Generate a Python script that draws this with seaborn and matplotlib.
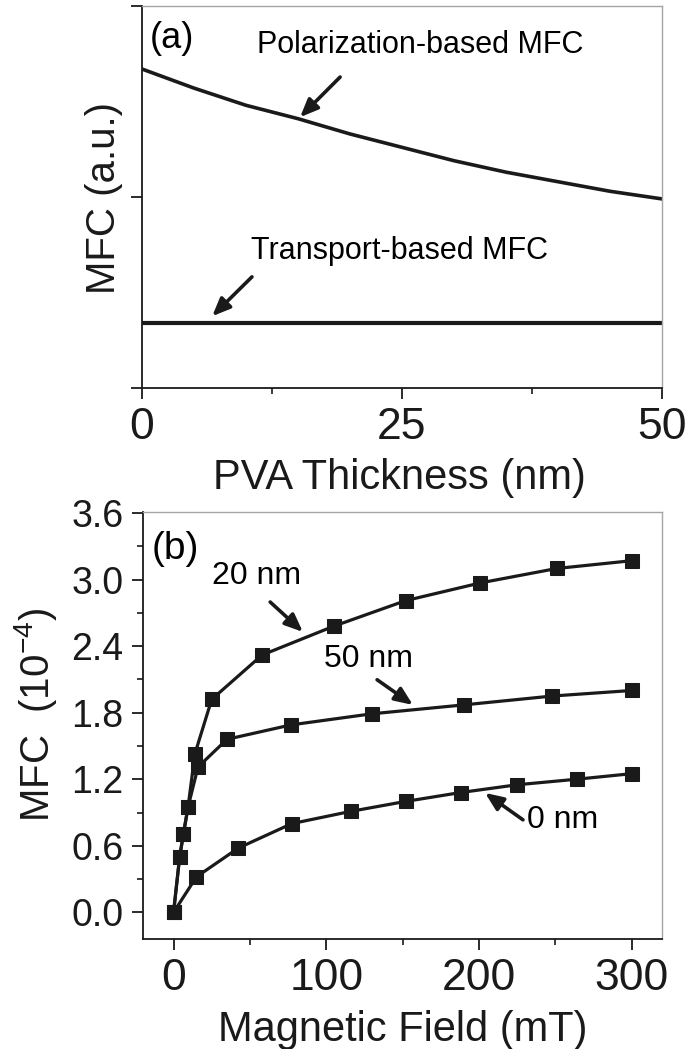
import numpy as np
import pandas as pd
import seaborn as sns
import matplotlib.pyplot as plt
from matplotlib import font_manager
from matplotlib.ticker import MultipleLocator, NullFormatter

# panel (a): MFC vs PVA thickness (arbitrary units)
thickness = [0, 5, 10, 15, 20, 25, 30, 35, 40, 45, 50]
polarization_mfc = [1.67, 1.57, 1.48, 1.41, 1.33, 1.26, 1.19, 1.13, 1.08, 1.03, 0.99]
transport_thickness = [0, 50]
transport_mfc = [0.338, 0.338]

# panel (b): MFC (1e-4) vs magnetic field (mT)
field_20nm = [0, 4, 6.5, 9.5, 14, 25, 58, 105, 152, 201, 251, 300]
mfc_20nm = [0, 0.50, 0.71, 0.95, 1.43, 1.92, 2.32, 2.58, 2.81, 2.97, 3.10, 3.17]
field_50nm = [0, 4, 6.5, 9.5, 16, 35, 77, 130, 190, 248, 300]
mfc_50nm = [0, 0.50, 0.71, 0.95, 1.31, 1.56, 1.69, 1.79, 1.87, 1.95, 2.00]
field_0nm = [0, 15, 42.5, 77.5, 116, 152, 188, 225, 264, 300]
mfc_0nm = [0, 0.32, 0.58, 0.80, 0.91, 1.00, 1.08, 1.15, 1.20, 1.25]

sns.set_theme(style='ticks')
installed = {f.name for f in font_manager.fontManager.ttflist}
regular = 'Liberation Sans' if 'Liberation Sans' in installed else 'DejaVu Sans'
narrow = 'Liberation Sans Narrow' if 'Liberation Sans Narrow' in installed else regular
plt.rcParams['font.family'] = [regular, 'DejaVu Sans']
plt.rcParams['mathtext.fontset'] = 'custom'
plt.rcParams['mathtext.rm'] = regular
plt.rcParams['mathtext.it'] = regular
# plain black text everywhere (the theme uses dark grey)
for key in ['text.color', 'axes.labelcolor', 'xtick.color', 'ytick.color', 'axes.edgecolor']:
    plt.rcParams[key] = 'black'

fig = plt.figure(figsize=(6.85, 10.49), dpi=100)
ax1 = fig.add_axes([0.2073, 0.6301, 0.7591, 0.3642])
ax2 = fig.add_axes([0.2088, 0.1049, 0.7577, 0.4071])

arrow = dict(arrowstyle='-|>,head_length=0.9,head_width=0.38', color='k', lw=2.6,
             shrinkA=0, shrinkB=0)


def style_axes(ax):
    for side in ['left', 'bottom']:
        ax.spines[side].set_color('k')
        ax.spines[side].set_linewidth(1.3)
    for side in ['top', 'right']:
        ax.spines[side].set_visible(True)
        ax.spines[side].set_color('#a5a5a5')
        ax.spines[side].set_linewidth(1.0)
    ax.tick_params(which='major', direction='out', length=8, width=1.3, color='k', pad=6,
                   labelcolor='k', top=False, right=False)
    ax.tick_params(which='minor', direction='out', length=4.5, width=1.2, color='k',
                   top=False, right=False)
    ax.set_facecolor('white')


# ---- panel (a)
df_pol = pd.DataFrame({'x': thickness, 'y': polarization_mfc})
df_tr = pd.DataFrame({'x': transport_thickness, 'y': transport_mfc})
sns.lineplot(data=df_pol, x='x', y='y', ax=ax1, color='k', lw=2.6)
sns.lineplot(data=df_tr, x='x', y='y', ax=ax1, color='k', lw=3.0)
ax1.set_xlim(0, 50)
ax1.set_ylim(0, 2)
ax1.set_xticks([0, 25, 50])
ax1.xaxis.set_minor_locator(MultipleLocator(12.5))
ax1.set_yticks([0, 1, 2])
ax1.yaxis.set_major_formatter(NullFormatter())
style_axes(ax1)
for lab in ax1.get_xticklabels():
    lab.set_fontfamily(narrow)
    lab.set_fontsize(32)
ax1.set_xlabel('PVA Thickness (nm)', fontsize=30, va='center', color='k')
ax1.xaxis.set_label_coords(0.496, -0.236)
ax1.set_ylabel('MFC (a.u.)', fontsize=29, va='center', color='k')
ax1.yaxis.set_label_coords(-0.073, 0.497)

ax1.text(0.058, 0.914, '(a)', transform=ax1.transAxes, fontsize=26, ha='center', va='center')
ax1.text(0.535, 0.898, 'Polarization-based MFC', transform=ax1.transAxes, fontsize=22,
         ha='center', va='center')
ax1.text(0.496, 0.359, 'Transport-based MFC', transform=ax1.transAxes, fontsize=22,
         ha='center', va='center')
ax1.annotate('', xy=(0.304, 0.709), xytext=(0.381, 0.814), xycoords='axes fraction',
             arrowprops=arrow)
ax1.annotate('', xy=(0.135, 0.188), xytext=(0.2115, 0.291), xycoords='axes fraction',
             arrowprops=arrow)

# ---- panel (b)
series = [(field_20nm, mfc_20nm), (field_50nm, mfc_50nm), (field_0nm, mfc_0nm)]
for fx, fy in series:
    sns.lineplot(x=fx, y=fy, ax=ax2, color='k', lw=2.3, marker='s', markersize=9.5,
                 markeredgecolor='k', markerfacecolor='k')
ax2.set_xlim(-20, 320)
ax2.set_ylim(-0.24, 3.61)
ax2.set_xticks([0, 100, 200, 300])
ax2.xaxis.set_minor_locator(MultipleLocator(50))
ax2.set_yticks(np.arange(0, 3.61, 0.6))
ax2.yaxis.set_minor_locator(MultipleLocator(0.3))
ax2.set_yticklabels(['%.1f' % v for v in np.arange(0, 3.61, 0.6)])
style_axes(ax2)
for lab in ax2.get_xticklabels():
    lab.set_fontfamily(narrow)
    lab.set_fontsize(32)
for lab in ax2.get_yticklabels():
    lab.set_fontsize(27)
ax2.set_xlabel('Magnetic Field (mT)', fontsize=30, va='center', color='k')
ax2.xaxis.set_label_coords(0.501, -0.213)
ax2.set_ylabel('MFC  (10$^{-4}$)', fontsize=29, va='center', color='k')
ax2.yaxis.set_label_coords(-0.208, 0.525)

ax2.text(0.0617, 0.913, '(b)', transform=ax2.transAxes, fontsize=28, ha='center', va='center')
ax2.text(0.218, 0.850, '20 nm', transform=ax2.transAxes, fontsize=23, ha='center', va='center')
ax2.text(0.435, 0.656, '50 nm', transform=ax2.transAxes, fontsize=23, ha='center', va='center')
ax2.text(0.809, 0.279, '0 nm', transform=ax2.transAxes, fontsize=23, ha='center', va='center')
ax2.annotate('', xy=(0.308, 0.719), xytext=(0.245, 0.789), xycoords='axes fraction',
             arrowprops=arrow)
ax2.annotate('', xy=(0.520, 0.548), xytext=(0.451, 0.607), xycoords='axes fraction',
             arrowprops=arrow)
ax2.annotate('', xy=(0.659, 0.342), xytext=(0.732, 0.279), xycoords='axes fraction',
             arrowprops=arrow)

fig.savefig('out.png', dpi=100, facecolor='white')
plt.close()
